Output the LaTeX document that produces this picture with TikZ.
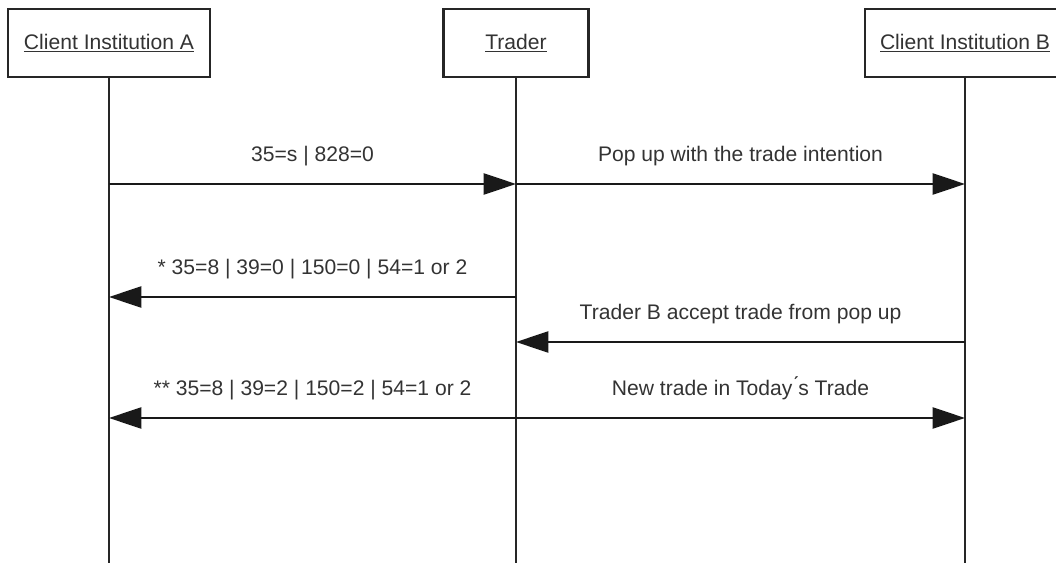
\documentclass[tikz,border=0pt]{standalone}
\usepackage{fontspec}
\setmainfont{Liberation Sans}
\usetikzlibrary{arrows.meta,calc,positioning}

\begin{document}
\begin{tikzpicture}[>={Triangle[length=23pt,width=15pt]},x=0.025cm,y=-0.025cm,
  every node/.style={font=\fontsize{15}{18}\selectfont,text=black!80},
  actor/.style={draw=black!85,line width=1.8pt,fill=white,minimum height=68*0.025cm,inner sep=0pt},
  life/.style={draw=black!85,line width=1.5pt},
  msg/.style={->,draw=black!90,line width=1.5pt},
  lbl/.style={above=12*0.025cm}]
\useasboundingbox (0,0) rectangle (1056,563);
\node[actor,minimum width=202*0.025cm] (A) at (109,43) {\underline{Client Institution A}};
\node[actor,minimum width=145*0.025cm] (T) at (516,43) {\underline{Trader}};
\node[actor,minimum width=200*0.025cm] (B) at (965,43) {\underline{Client Institution B}};
% lifelines
\foreach \n in {A,T,B}{
  \coordinate (\n end) at (\n.south |- 0,563);
  \draw[life] (\n.south)--(\n end);
}
% message rows
\foreach \n/\y in {1/184,2/297,3/342,4/418}{
  \coordinate (a\n) at (A.south |- 0,\y);
  \coordinate (t\n) at (T.south |- 0,\y);
  \coordinate (b\n) at (B.south |- 0,\y);
}
\draw[msg] (a1)--(t1) node[midway,lbl]{35=s | 828=0};
\draw[msg] (t1)--(b1) node[midway,lbl]{Pop up with the trade intention};
\draw[msg] (t2)--(a2) node[midway,lbl]{* 35=8 | 39=0 | 150=0 | 54=1 or 2};
\draw[msg] (b3)--(t3) node[midway,lbl]{Trader B accept trade from pop up};
\draw[msg] (t4)--(a4) node[midway,lbl]{** 35=8 | 39=2 | 150=2 | 54=1 or 2};
\draw[msg] (t4)--(b4) node[midway,lbl]{New trade in Today\'{}s Trade};
\end{tikzpicture}
\end{document}
